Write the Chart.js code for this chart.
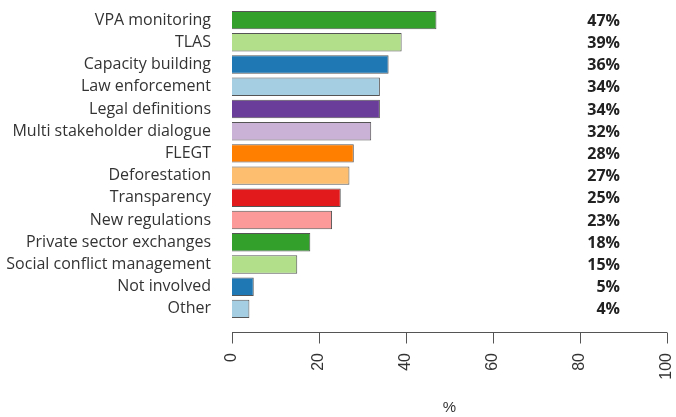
<!DOCTYPE html>
<html>
<head>
<meta charset="utf-8">
<script src="https://cdn.jsdelivr.net/npm/chart.js@4"></script>
<style>
  body { margin: 0; background: #fff; }
  #wrap { width: 676px; height: 417px; }
</style>
</head>
<body>
<div id="wrap"><canvas id="myChart" width="676" height="417"></canvas></div>
<script>
const categories = [
  "VPA monitoring", "TLAS", "Capacity building", "Law enforcement",
  "Legal definitions", "Multi stakeholder dialogue", "FLEGT", "Deforestation",
  "Transparency", "New regulations", "Private sector exchanges",
  "Social conflict management", "Not involved", "Other"
];
const values = [47, 39, 36, 34, 34, 32, 28, 27, 25, 23, 18, 15, 5, 4];
const barColors = [
  "#33a02c", "#b2df8a", "#1f78b4", "#a6cee3", "#6a3d9a", "#cab2d6", "#ff7f00",
  "#fdbf6f", "#e31a1c", "#fb9a99", "#33a02c", "#b2df8a", "#1f78b4", "#a6cee3"
];
const tickValues = [0, 20, 40, 60, 80, 100];

// percent labels column + offset axis like R's barplot
const extras = {
  id: "extras",
  afterDraw(chart) {
    const { ctx, chartArea } = chart;
    const x = chart.scales.x;
    const y = chart.scales.y;

    ctx.save();
    ctx.font = "bold 16px 'Open Sans'";
    ctx.fillStyle = "#222";
    ctx.textAlign = "right";
    ctx.textBaseline = "middle";
    values.forEach((v, i) => {
      ctx.fillText(v + "%", x.getPixelForValue(89.2), y.getPixelForValue(i) + 1);
    });

    const axisY = chartArea.bottom + 12.5;
    ctx.strokeStyle = "#555";
    ctx.lineWidth = 1;
    ctx.beginPath();
    ctx.moveTo(x.getPixelForValue(tickValues[0]), axisY);
    ctx.lineTo(x.getPixelForValue(tickValues[tickValues.length - 1]), axisY);
    tickValues.forEach((t) => {
      const px = Math.round(x.getPixelForValue(t)) + 0.5;
      ctx.moveTo(px, axisY);
      ctx.lineTo(px, axisY + 11);
    });
    ctx.stroke();
    ctx.restore();
  },
};

function noPadding(scale) {
  scale.paddingTop = 0;
  scale.paddingBottom = 0;
  scale.paddingLeft = 0;
  scale.paddingRight = 0;
}

new Chart(document.getElementById("myChart"), {
  type: "bar",
  data: {
    labels: categories,
    datasets: [
      {
        data: values,
        backgroundColor: barColors,
        borderColor: "#555",
        borderWidth: 1,
        barPercentage: 0.83,
        categoryPercentage: 1,
      },
    ],
  },
  options: {
    indexAxis: "y",
    responsive: false,
    animation: false,
    layout: { padding: { top: 9, right: 9, left: 0, bottom: 0 } },
    plugins: { legend: { display: false }, tooltip: { enabled: false } },
    scales: {
      y: {
        grid: { display: false, drawTicks: false },
        border: { display: false },
        ticks: {
          autoSkip: false,
          padding: 21,
          color: "#333",
          font: { family: "Open Sans", size: 16 },
        },
        afterFit(scale) {
          scale.width = 232;
          noPadding(scale);
        },
      },
      x: {
        min: 0,
        max: 100,
        grid: { display: false, drawTicks: false },
        border: { display: false },
        ticks: {
          stepSize: 20,
          padding: 33,
          minRotation: 90,
          maxRotation: 90,
          color: "#333",
          font: { family: "Liberation Sans", size: 16 },
        },
        title: {
          display: true,
          text: "%",
          color: "#333",
          padding: { top: 1, bottom: 0 },
          font: { family: "Liberation Sans", size: 15 },
        },
        afterFit(scale) {
          scale.height = 97;
          noPadding(scale);
        },
      },
    },
  },
  plugins: [extras],
});
</script>
</body>
</html>
